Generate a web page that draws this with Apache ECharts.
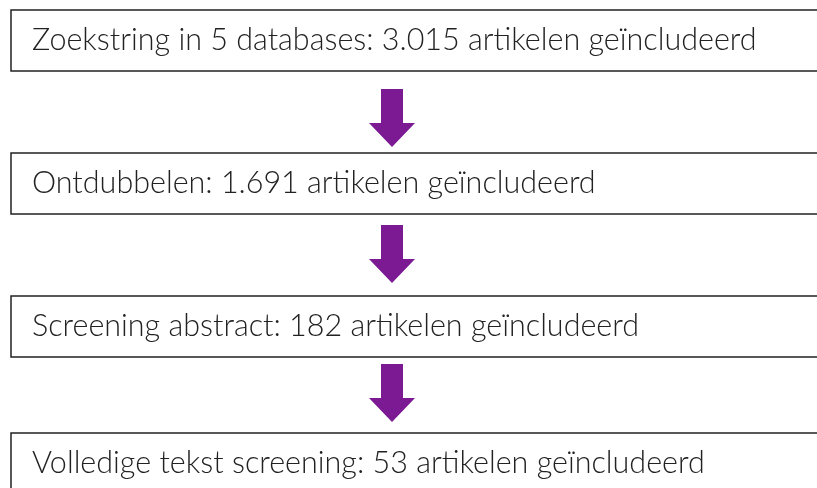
<!DOCTYPE html>
<html>
<head>
<meta charset="utf-8">
<script src="https://cdn.jsdelivr.net/npm/echarts@6/dist/echarts.min.js"></script>
<style>
  html, body { margin: 0; padding: 0; background: #fff; }
  #chart { width: 817px; height: 488px; }
</style>
</head>
<body>
<div id="chart"></div>
<script>
// stappen van de zoekstrategie
var steps = [
  'Zoekstring in 5 databases: 3.015 artikelen geïncludeerd',
  'Ontdubbelen: 1.691 artikelen geïncludeerd',
  'Screening abstract: 182 artikelen geïncludeerd',
  'Volledige tekst screening: 53 artikelen geïncludeerd'
];

// layout
var boxLeft = 11, boxRight = 830, boxH = 61;
var boxTops = [10, 153, 296, 433];
var arrowTops = [89, 225, 364];
var arrowTips = [147, 283, 422];
var arrowX = 392;
var purple = '#7b1a93';

var chart = echarts.init(document.getElementById('chart'));
var elements = [];

steps.forEach(function (label, i) {
  var top = boxTops[i];
  elements.push({
    type: 'rect',
    shape: { x: boxLeft, y: top, width: boxRight - boxLeft, height: boxH },
    style: { fill: '#fff', stroke: '#222', lineWidth: 1.5 }
  });
  elements.push({
    type: 'text',
    x: 32,
    y: top + boxH / 2,
    style: {
      text: label,
      font: '300 30.5px Lato',
      fill: '#222',
      textVerticalAlign: 'middle'
    }
  });
  if (i < steps.length - 1) {
    var a0 = arrowTops[i];
    var tip = arrowTips[i];
    var headY = tip - 24;
    elements.push({
      type: 'polygon',
      shape: {
        points: [
          [arrowX - 11, a0], [arrowX + 11, a0], [arrowX + 11, headY],
          [arrowX + 23, headY], [arrowX, tip], [arrowX - 23, headY],
          [arrowX - 11, headY]
        ]
      },
      style: { fill: purple }
    });
  }
});

chart.setOption({
  animation: false,
  backgroundColor: '#fff',
  graphic: { elements: elements }
});
</script>
</body>
</html>
